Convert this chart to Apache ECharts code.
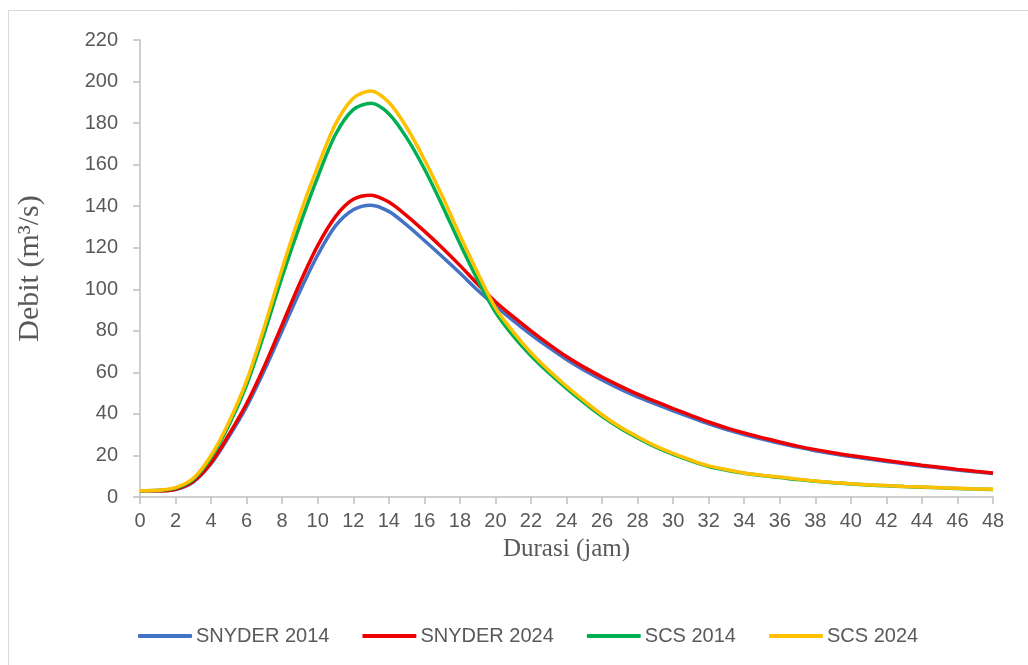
<!DOCTYPE html>
<html>
<head>
<meta charset="utf-8">
<script src="https://cdn.jsdelivr.net/npm/echarts@6/dist/echarts.min.js"></script>
<style>
html,body{margin:0;padding:0;background:#fff;}
#chart{width:1028px;height:665px;}
</style>
</head>
<body>
<div id="chart"></div>
<script>
const hours = [0,1,2,3,4,5,6,7,8,9,10,11,12,13,14,15,16,17,18,19,20,21,22,23,24,25,26,27,28,29,30,31,32,33,34,35,36,37,38,39,40,41,42,43,44,45,46,47,48];
const yTicks = [0,20,40,60,80,100,120,140,160,180,200,220];
const seriesNames = ['SNYDER 2014','SNYDER 2024','SCS 2014','SCS 2024'];

const snyder2014 = [3,3,3.6,7.2,16,29,43.5,61,80,99,116.5,130.5,138.3,140.5,137.5,131,123.5,115.8,107.8,99.5,92,84.9,78.2,72,66.2,61,56.3,52,48.2,44.8,41.5,38.3,35.2,32.5,30.1,27.9,25.9,24,22.3,20.8,19.5,18.3,17.1,16,14.9,14,13,12.1,11.3];
const snyder2024 = [3,3,3.7,7.5,16.5,30,45,63,83,103,121,135,143.3,145.3,142,135.5,128,120,111.5,102.5,94,86.8,80,73.6,67.6,62.4,57.8,53.5,49.5,46,42.6,39.3,36.1,33.3,30.8,28.6,26.5,24.5,22.8,21.3,20,18.8,17.6,16.4,15.3,14.3,13.3,12.4,11.6];
const scs2014 = [3,3.2,4.3,8.5,19,34.5,54,79,106,131,154,174.5,186.5,189.5,184.5,173,158,140.5,122,104.5,89,77.5,68,59.8,52.3,45.3,38.8,33.2,28.4,24.1,20.5,17.4,14.7,12.9,11.4,10.3,9.4,8.4,7.6,6.9,6.3,5.8,5.4,5,4.7,4.4,4.1,3.8,3.6];
const scs2024 = [3,3.2,4.5,9,20,36,56,82,110,136,159,179.5,192,195.5,190,178,162.5,145,126,108,91,79.5,69.5,61,53.3,46.3,39.6,33.8,29,24.6,21,17.8,15,13.2,11.6,10.5,9.6,8.6,7.7,7,6.4,5.9,5.5,5.1,4.8,4.5,4.2,3.9,3.7];

const colors = ['#4472C4','#EE0000','#00B050','#FFC000'];
const allData = [snyder2014, snyder2024, scs2014, scs2024];

const chart = echarts.init(document.getElementById('chart'), null, {renderer:'canvas'});
const textColor = '#595959';
const axisGray = '#BFBFBF';

chart.setOption({
  animation:false,
  backgroundColor:'#fff',
  graphic:[{type:'rect', shape:{x:8.5,y:10.5,width:1100,height:800}, style:{fill:'none', stroke:'#D9D9D9', lineWidth:1}, silent:true, z:-10}],
  grid:{left:140, right:35, top:40, bottom:168},
  legend:{
    data:seriesNames, left:133, top:621, icon:'roundRect', itemWidth:54, itemHeight:4, itemGap:33,
    textStyle:{color:textColor, fontFamily:'Liberation Sans', fontSize:20, padding:[0,0,0,-1]}
  },
  xAxis:{
    type:'value', min:0, max:48, interval:2,
    name:'Durasi (jam)', nameLocation:'middle', nameGap:40,
    nameTextStyle:{fontFamily:'Liberation Serif', fontSize:25, color:textColor},
    axisLine:{show:true, lineStyle:{color:axisGray, width:1.5}},
    axisTick:{show:true, length:7, lineStyle:{color:axisGray, width:1.5}},
    axisLabel:{color:textColor, fontFamily:'Liberation Sans', fontSize:20, margin:14},
    splitLine:{show:false}
  },
  yAxis:{
    type:'value', min:yTicks[0], max:yTicks[yTicks.length-1], interval:yTicks[1]-yTicks[0],
    name:'Debit (m³/s)', nameLocation:'middle', nameGap:95,
    nameTextStyle:{fontFamily:'Liberation Serif', fontSize:30, color:textColor},
    axisLine:{show:true, lineStyle:{color:axisGray, width:1.5}},
    axisTick:{show:true, length:7, lineStyle:{color:axisGray, width:1.5}},
    axisLabel:{color:textColor, fontFamily:'Liberation Sans', fontSize:20, margin:22},
    splitLine:{show:false}
  },
  series: allData.map((d,i)=>({
    name:seriesNames[i], type:'line', smooth:0.3, showSymbol:false, symbol:'none',
    data: hours.map((h,k)=>[h,d[k]]),
    lineStyle:{color:colors[i], width:3.5},
    itemStyle:{color:colors[i]},
    z:2+i
  }))
});
</script>
</body>
</html>
